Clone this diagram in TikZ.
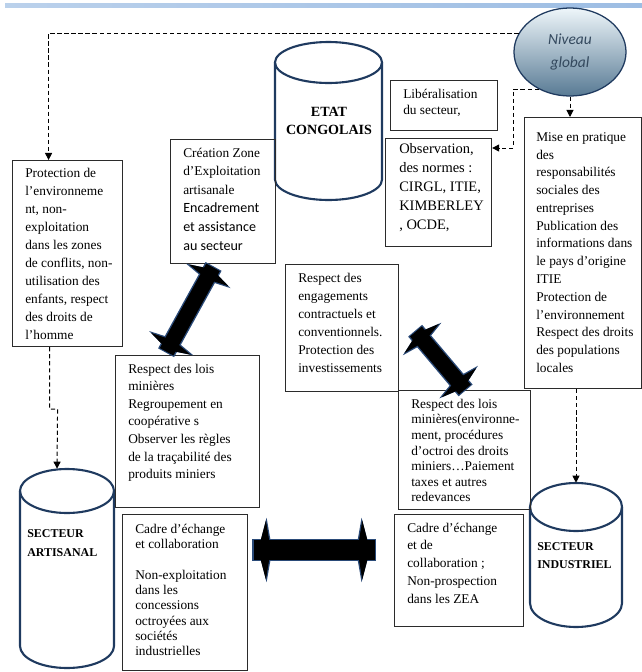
\documentclass[tikz,border=0pt]{standalone}
\usepackage{fontspec}
\setmainfont{Liberation Serif}
\newfontfamily\calib{Carlito}
\usetikzlibrary{shapes.geometric,arrows.meta,positioning}
\definecolor{bleucuve}{HTML}{1F3A5F}
\definecolor{trait}{HTML}{2B2B2B}
\definecolor{halo}{HTML}{2A4A78}
\definecolor{bandeau}{HTML}{9DBDE3}
\definecolor{texteglobal}{HTML}{34495E}
\definecolor{globalclair}{HTML}{EEF6FA}
\definecolor{globalfonce}{HTML}{587A94}

\begin{document}
\begin{tikzpicture}[x=0.025cm, y=-0.025cm,
    bloc/.style={draw=trait, line width=0.8pt, anchor=north west, inner sep=0pt},
    texte/.style={anchor=north west, inner sep=0pt, align=left},
    cuve/.style={draw=bleucuve, line width=1.5pt},
    zone/.style={inner sep=0pt},
    titre/.style={inner sep=0pt},
    tirets/.style={draw=black, line width=0.7pt, dash pattern=on 3pt off 2pt, -{Triangle[length=5pt,width=5pt]}},
    grosse/.style={line width=14pt, <->, >={Kite[length=9pt,width=42pt,inset=3.5pt]},
        preaction={draw=halo, line width=16pt, <->, >={Kite[length=10pt,width=46pt,inset=4pt]}}},
    grossediag/.style={line width=11pt, <->, >={Kite[length=8pt,width=32pt,inset=3pt]},
        preaction={draw=halo, line width=13pt, <->, >={Kite[length=9pt,width=36pt,inset=3.5pt]}}}]
    \useasboundingbox (0,0) rectangle (642,672);
    \fill[left color=bandeau!70, right color=bandeau] (5,3) rectangle (642,7);

    % les trois acteurs
    \draw[cuve] (328.5,62.5) ellipse [x radius=1.3375cm, y radius=0.5125cm];
    \draw[cuve] (275,62.5) -- (275,179.5) arc [start angle=180, end angle=360, x radius=1.3375cm, y radius=0.5125cm] -- (382,62.5);
    \node[titre, align=center, font=\bfseries\fontsize{10}{12.7}\selectfont] (etat) at (329,121) {ETAT\\CONGOLAIS};

    \draw[cuve] (67,491) ellipse [x radius=1.175cm, y radius=0.55cm];
    \draw[cuve] (20,491) -- (20,646) arc [start angle=180, end angle=360, x radius=1.175cm, y radius=0.55cm] -- (114,491);
    \node[zone, minimum width=2.35cm, minimum height=4.975cm] (artis) at (67,568.5) {};
    \node[titre, anchor=west, align=left, font=\bfseries\fontsize{8.5}{13.4}\selectfont] (artis-t) at (27,543.5) {SECTEUR\\ARTISANAL};

    \draw[cuve] (576,507) ellipse [x radius=1.15cm, y radius=0.6cm];
    \draw[cuve] (530,507) -- (530,603) arc [start angle=180, end angle=360, x radius=1.15cm, y radius=0.6cm] -- (622,507);
    \node[zone, minimum width=2.3cm, minimum height=3.6cm] (indus) at (576,555) {};
    \node[titre, anchor=west, align=left, font=\bfseries\fontsize{8.5}{12.7}\selectfont] (indus-t) at (537,556) {SECTEUR\\INDUSTRIEL};

    \node[ellipse, draw=bleucuve, line width=0.9pt, top color=globalclair, bottom color=globalfonce,
        minimum width=2.8cm, minimum height=2.2cm, inner sep=0pt, align=center, text=texteglobal,
        font=\calib\itshape\fontsize{11}{17}\selectfont] (niveau) at (570,52) {Niveau\\global};

    % les blocs
    \node[bloc, minimum width=2.75cm, minimum height=4.65cm] (protect) at (12,160) {};
    \node[texte, font=\fontsize{9.5}{12.8}\selectfont] (protect-t) at ([shift={(13,4.4)}]protect.north west)
        {\strut Protection de\\l’environneme\\nt, non-\\exploitation\\dans les zones\\de conflits, non-\\utilisation des\\enfants, respect\\des droits de\\l’homme};

    \node[bloc, minimum width=2.625cm, minimum height=3.1cm] (creation) at (170,139) {};
    \node[texte, font=\fontsize{9.5}{13.2}\selectfont] (creation-t) at ([shift={(13,5)}]creation.north west)
        {\strut Création Zone\\d’Exploitation\\artisanale\\{\calib\fontsize{10}{13.2}\selectfont Encadrement}\\{\calib\fontsize{10}{13.2}\selectfont et assistance}\\{\calib\fontsize{10}{13.2}\selectfont au secteur}};

    \node[bloc, minimum width=2.675cm, minimum height=1.25cm] (liberal) at (390,80) {};
    \node[texte, font=\fontsize{9.5}{11.3}\selectfont] (liberal-t) at ([shift={(13,6.8)}]liberal.north west)
        {\strut Libéralisation\\du secteur,};

    \node[bloc, minimum width=2.65cm, minimum height=2.7cm] (observ) at (385,138) {};
    \node[texte, font=\fontsize{10.3}{13.5}\selectfont] (observ-t) at ([shift={(14,1.7)}]observ.north west)
        {\strut Observation,\\des normes :\\CIRGL, ITIE,\\KIMBERLEY\\, OCDE,};

    \node[bloc, minimum width=2.925cm, minimum height=6.775cm] (mise) at (524,117) {};
    \node[texte, font=\fontsize{9.5}{12.65}\selectfont] (mise-t) at ([shift={(12,11.5)}]mise.north west)
        {\strut Mise en pratique\\des\\responsabilités\\sociales des\\entreprises\\Publication des\\informations dans\\le pays d’origine\\ITIE\\Protection de\\l’environnement\\Respect des droits\\des populations\\locales};

    \node[bloc, minimum width=2.825cm, minimum height=3.175cm] (engag) at (285,264) {};
    \node[texte, font=\fontsize{9.5}{12.8}\selectfont] (engag-t) at ([shift={(13,5.4)}]engag.north west)
        {\strut Respect des\\engagements\\contractuels et\\conventionnels.\\Protection des\\investissements};

    \node[bloc, minimum width=3.6cm, minimum height=3.8cm] (loisart) at (115,355) {};
    \node[texte, font=\fontsize{9.5}{12.5}\selectfont] (loisart-t) at ([shift={(13,5.6)}]loisart.north west)
        {\strut Respect des lois\\minières\\Regroupement en\\coopérative s\\Observer les règles\\de la traçabilité des\\produits miniers};

    \node[bloc, minimum width=3.3cm, minimum height=2.975cm] (loisind) at (398,390) {};
    \node[texte, font=\fontsize{9.5}{11.1}\selectfont] (loisind-t) at ([shift={(13,7)}]loisind.north west)
        {\strut Respect des lois\\minières(environne-\\ment, procédures\\d’octroi des droits\\miniers…Paiement\\taxes et autres\\redevances};

    \node[bloc, minimum width=3.125cm, minimum height=3.9cm] (cadreart) at (122,514) {};
    \node[texte, font=\fontsize{9.5}{10.9}\selectfont] (cadreart-t) at ([shift={(13,8.2)}]cadreart.north west)
        {\strut Cadre d’échange\\et collaboration\\[11pt]Non-exploitation\\dans les\\concessions\\octroyées aux\\sociétés\\industrielles};

    \node[bloc, minimum width=3.225cm, minimum height=2.8cm] (cadreind) at (394,514) {};
    \node[texte, font=\fontsize{9.5}{12.6}\selectfont] (cadreind-t) at ([shift={(13,5.5)}]cadreind.north west)
        {\strut Cadre d’échange\\et de\\collaboration ;\\Non-prospection\\dans les ZEA};

    % liens en pointilles
    \draw[tirets] (niveau.160) -| ([shift={(-19,0)}]protect.north);
    \draw[tirets] (niveau.230) -| ([shift={(21,10)}]observ.north east) -- ([shift={(0,10)}]observ.north east);
    \draw[tirets] (niveau.south) -- (niveau.south |- mise.north);
    \draw[tirets] (indus.north |- mise.south) -- (indus.north);
    \draw[tirets] ([shift={(-18,0)}]protect.south) |- ++(8,62) -- ([shift={(-10,0)}]artis.north);

    % grosses fleches
    \draw[grossediag] ([shift={(-11,5)}]creation.south) -- ([shift={(-20,-5)}]loisart.north);
    \draw[grossediag] ([shift={(18,5)}]engag.east) -- ([shift={(-1,-2)}]loisind.north);
    \draw[grosse] ([shift={(10,36)}]cadreart.north east) -- ([shift={(-24,36)}]cadreind.north west);
\end{tikzpicture}
\end{document}
